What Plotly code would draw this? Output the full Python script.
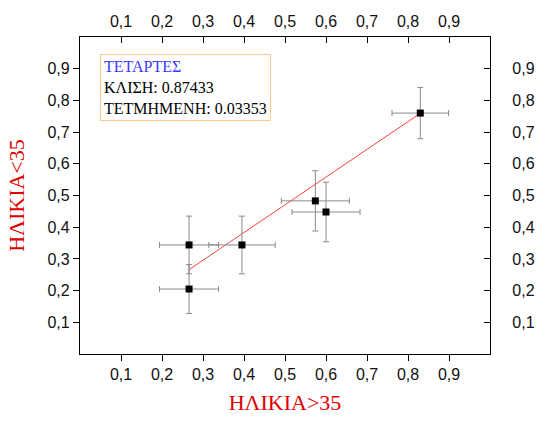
import plotly.graph_objects as go

# Points: age >35 (x) vs age <35 (y), with their uncertainties
x_vals = [0.266, 0.266, 0.395, 0.574, 0.600, 0.830]
y_vals = [0.344, 0.205, 0.344, 0.483, 0.448, 0.760]
x_err = [0.072, 0.072, 0.081, 0.083, 0.083, 0.069]
y_err = [0.091, 0.077, 0.091, 0.095, 0.094, 0.081]

# Linear fit parameters
slope = 0.87433
intercept = 0.03353

fit_x = [min(x_vals), max(x_vals)]
fit_y = [intercept + slope * v for v in fit_x]

tick_vals = [0.1, 0.2, 0.3, 0.4, 0.5, 0.6, 0.7, 0.8, 0.9]

fig = go.Figure()

fig.add_trace(go.Scatter(
    x=fit_x, y=fit_y, mode="lines",
    line=dict(color="#ff4040", width=1),
    showlegend=False, hoverinfo="skip",
))

fig.add_trace(go.Scatter(
    x=x_vals, y=y_vals, mode="markers",
    marker=dict(symbol="square", size=7, color="black"),
    error_x=dict(type="data", array=x_err, color="#8a8a8a", thickness=1, width=3),
    error_y=dict(type="data", array=y_err, color="#8a8a8a", thickness=1, width=3),
    showlegend=False,
))

# Invisible trace to carry the top/right axes
fig.add_trace(go.Scatter(
    x=[0.5], y=[0.5], xaxis="x2", yaxis="y2", mode="markers",
    marker=dict(opacity=0), showlegend=False, hoverinfo="skip",
))

tick_font = dict(family="Liberation Sans, Arial", size=16, color="#111111")
title_font = dict(family="Liberation Serif, Times New Roman", size=22, color="#dd0000")

common = dict(
    range=[0, 1], tickvals=tick_vals, tickformat=".1f",
    showline=True, linecolor="black", linewidth=1.2,
    ticklen=6, tickcolor="black", tickwidth=1,
    showgrid=False, zeroline=False, tickfont=tick_font,
)

fig.update_layout(
    width=549, height=423,
    margin=dict(l=80, r=59, t=36, b=68),
    paper_bgcolor="white", plot_bgcolor="white",
    separators=", ",
    xaxis=dict(**common, ticks="outside",
               title=dict(text="ΗΛΙΚΙΑ>35", font=title_font, standoff=12)),
    yaxis=dict(**common, ticks="outside",
               title=dict(text="ΗΛΙΚΙΑ<35", font=title_font, standoff=16)),
    xaxis2=dict(**common, ticks="inside", overlaying="x", side="top", anchor="y2",
                ticklabelstandoff=3),
    yaxis2=dict(**common, ticks="inside", overlaying="y", side="right", anchor="x2",
                ticklabelstandoff=18),
    annotations=[dict(
        xref="paper", yref="paper", x=0.049, y=0.947,
        xanchor="left", yanchor="top", align="left", showarrow=False,
        text=("<span style='color:#3a3aff'>ΤΕΤΑΡΤΕΣ</span><br>"
              f"ΚΛΙΣΗ: {slope:.5f}<br>ΤΕΤΜΗΜΕΝΗ: {intercept:.5f}"),
        font=dict(family="Liberation Serif, Times New Roman", size=16, color="black"),
        bordercolor="#ffc890", borderwidth=1, borderpad=3, bgcolor="white",
    )],
)

fig.write_html("out.html")
